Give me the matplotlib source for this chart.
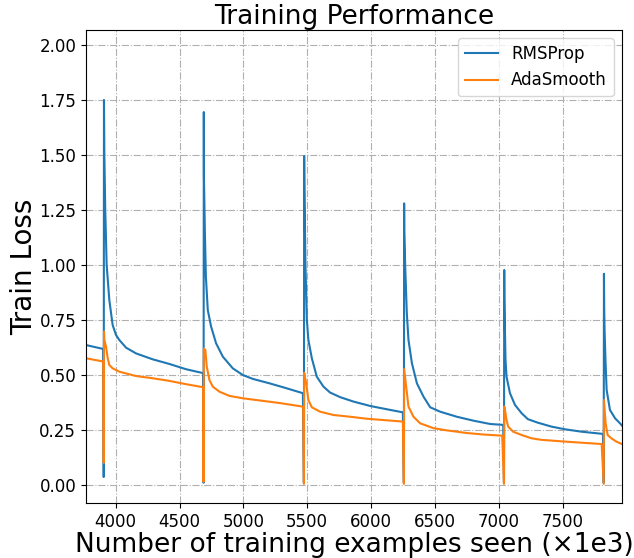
import matplotlib
matplotlib.use("Agg")
import matplotlib.pyplot as plt

# RMSProp loss, points (x in thousands of examples)
rms_x = [3767, 3903, 3906, 3908, 3911, 3918, 3929, 3950, 3976, 4002, 4028, 4081, 4159, 4290, 4420, 4551, 4687,
         4688, 4690, 4691, 4698, 4706, 4721, 4747, 4786, 4839, 4917, 4995, 5074, 5204, 5335, 5466,
         5474, 5476, 5478, 5486, 5497, 5509, 5536, 5575, 5627, 5679, 5758, 5862, 5993, 6124, 6249,
         6257, 6259, 6260, 6267, 6280, 6293, 6320, 6359, 6411, 6463, 6541, 6672, 6803, 6934, 7035,
         7041, 7043, 7044, 7047, 7053, 7061, 7088, 7127, 7179, 7228, 7306, 7414, 7519, 7649, 7816,
         7822, 7824, 7826, 7829, 7837, 7845, 7871, 7911, 7950, 7965]
rms_y = [0.636, 0.618, 0.036, 1.750, 1.500, 1.250, 1.000, 0.840, 0.727, 0.682, 0.659, 0.624, 0.598, 0.571, 0.550, 0.526, 0.508,
         0.010, 1.695, 1.400, 1.160, 0.950, 0.795, 0.720, 0.644, 0.583, 0.530, 0.500, 0.482, 0.462, 0.440, 0.417,
         0.010, 1.495, 1.350, 1.000, 0.750, 0.659, 0.576, 0.492, 0.447, 0.420, 0.399, 0.379, 0.359, 0.344, 0.330,
         0.010, 1.280, 1.150, 1.000, 0.780, 0.659, 0.553, 0.462, 0.401, 0.353, 0.333, 0.310, 0.292, 0.277, 0.273,
         0.010, 0.977, 0.850, 0.750, 0.568, 0.492, 0.417, 0.364, 0.326, 0.299, 0.283, 0.265, 0.253, 0.242, 0.232,
         0.010, 0.960, 0.800, 0.700, 0.550, 0.432, 0.341, 0.303, 0.280, 0.270]

# AdaSmooth loss
ada_x = [3767, 3903, 3906, 3908, 3911, 3924, 3937, 3950, 3976, 4028, 4159, 4290, 4420, 4551, 4687,
         4688, 4690, 4702, 4713, 4734, 4760, 4812, 4890, 4995, 5288, 5444, 5468,
         5474, 5476, 5492, 5509, 5536, 5601, 5705, 5836, 5967, 6097, 6249,
         6257, 6259, 6275, 6293, 6332, 6385, 6489, 6594, 6751, 6886, 7027,
         7041, 7043, 7049, 7061, 7074, 7113, 7179, 7257, 7335, 7519, 7649, 7806,
         7822, 7824, 7837, 7853, 7882, 7921, 7965]
ada_y = [0.576, 0.561, 0.100, 0.697, 0.660, 0.629, 0.577, 0.545, 0.530, 0.515, 0.495, 0.485, 0.473, 0.458, 0.444,
         0.014, 0.620, 0.614, 0.538, 0.477, 0.447, 0.424, 0.405, 0.394, 0.372, 0.358, 0.355,
         0.005, 0.510, 0.462, 0.386, 0.353, 0.333, 0.318, 0.310, 0.301, 0.295, 0.288,
         0.005, 0.527, 0.447, 0.356, 0.310, 0.280, 0.258, 0.248, 0.236, 0.229, 0.224,
         0.005, 0.356, 0.340, 0.295, 0.265, 0.242, 0.227, 0.212, 0.205, 0.197, 0.192, 0.186,
         0.005, 0.386, 0.280, 0.227, 0.212, 0.197, 0.186]

yticks = [0.00, 0.25, 0.50, 0.75, 1.00, 1.25, 1.50, 1.75, 2.00]
xticks = [4000, 4500, 5000, 5500, 6000, 6500, 7000, 7500]

fig = plt.figure(figsize=(6.34, 5.58), dpi=100)
ax = fig.add_axes([0.1356, 0.0986, 0.8454, 0.8476])

ax.plot(rms_x, rms_y, color='#1f77b4', lw=1.5, label='RMSProp')
ax.plot(ada_x, ada_y, color='#ff7f0e', lw=1.5, label='AdaSmooth')

ax.set_xlim(3767, 7965)
ax.set_ylim(-0.082, 2.068)
ax.set_xticks(xticks)
ax.set_yticks(yticks)
ax.set_yticklabels(['%.2f' % v for v in yticks])
ax.tick_params(labelsize=12)
ax.grid(True, linestyle='-.', color='#b0b0b0', lw=0.8)

ax.set_title('Training Performance', fontsize=19, pad=4)
ax.set_xlabel('Number of training examples seen (\u00d71e3)', fontsize=19, labelpad=1)
ax.set_ylabel('Train Loss', fontsize=20, labelpad=0.5)
ax.legend(loc='upper right', fontsize=12)

fig.savefig('out.png', dpi=100)
